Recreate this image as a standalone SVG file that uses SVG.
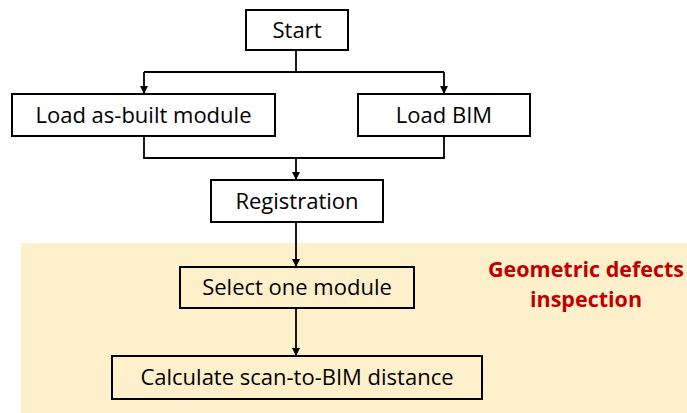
<svg xmlns="http://www.w3.org/2000/svg" width="687" height="413" viewBox="0 0 687 413">
<style>
.box{fill:none;stroke:#000;stroke-width:2}
.lbl{font-family:"Open Sans","Liberation Sans",sans-serif;font-size:22px;fill:#000;text-anchor:middle}
.ln{fill:none;stroke:#000;stroke-width:1.8}
.red{font-family:"Open Sans","Liberation Sans",sans-serif;font-size:21.5px;font-weight:bold;fill:#C00000;text-anchor:middle}
</style>
<defs>
<marker id="ah" markerWidth="8" markerHeight="8" refX="7" refY="4" orient="auto" markerUnits="userSpaceOnUse">
<path d="M0,0 L8,4 L0,8 Z" fill="#000"/>
</marker>
</defs>
<rect width="687" height="413" fill="#fff"/>
<rect id="region" x="21" y="243" width="666" height="170" fill="#FFF0CC"/>
<g id="start"><rect class="box" x="246" y="10" width="102" height="40"/><text class="lbl" x="297" y="38">Start</text></g>
<g id="loadasbuilt"><rect class="box" x="12" y="94" width="263" height="42"/><text class="lbl" x="143.5" y="123">Load as-built module</text></g>
<g id="loadbim"><rect class="box" x="358" y="94" width="172" height="42"/><text class="lbl" x="444" y="123">Load BIM</text></g>
<g id="registration"><rect class="box" x="211" y="180" width="172" height="42"/><text class="lbl" x="297" y="209">Registration</text></g>
<g id="select"><rect class="box" x="180" y="267" width="234" height="41"/><text class="lbl" x="297" y="295">Select one module</text></g>
<g id="calc"><rect class="box" x="112" y="356" width="370" height="43"/><text class="lbl" x="297" y="385">Calculate scan-to-BIM distance</text></g>
<g id="label"><text class="red" x="586" y="277">Geometric defects</text><text class="red" x="586" y="307">inspection</text></g>
<g id="connectors">
<path class="ln" d="M296,50 V72"/>
<path class="ln" d="M144,72 H444"/>
<path class="ln" d="M144,72 V93" marker-end="url(#ah)"/>
<path class="ln" d="M444,72 V93" marker-end="url(#ah)"/>
<path class="ln" d="M144,136 V158 H444 V136"/>
<path class="ln" d="M296,158 V179" marker-end="url(#ah)"/>
<path class="ln" d="M296,222 V266" marker-end="url(#ah)"/>
<path class="ln" d="M296,308 V355" marker-end="url(#ah)"/>
</g>
</svg>
